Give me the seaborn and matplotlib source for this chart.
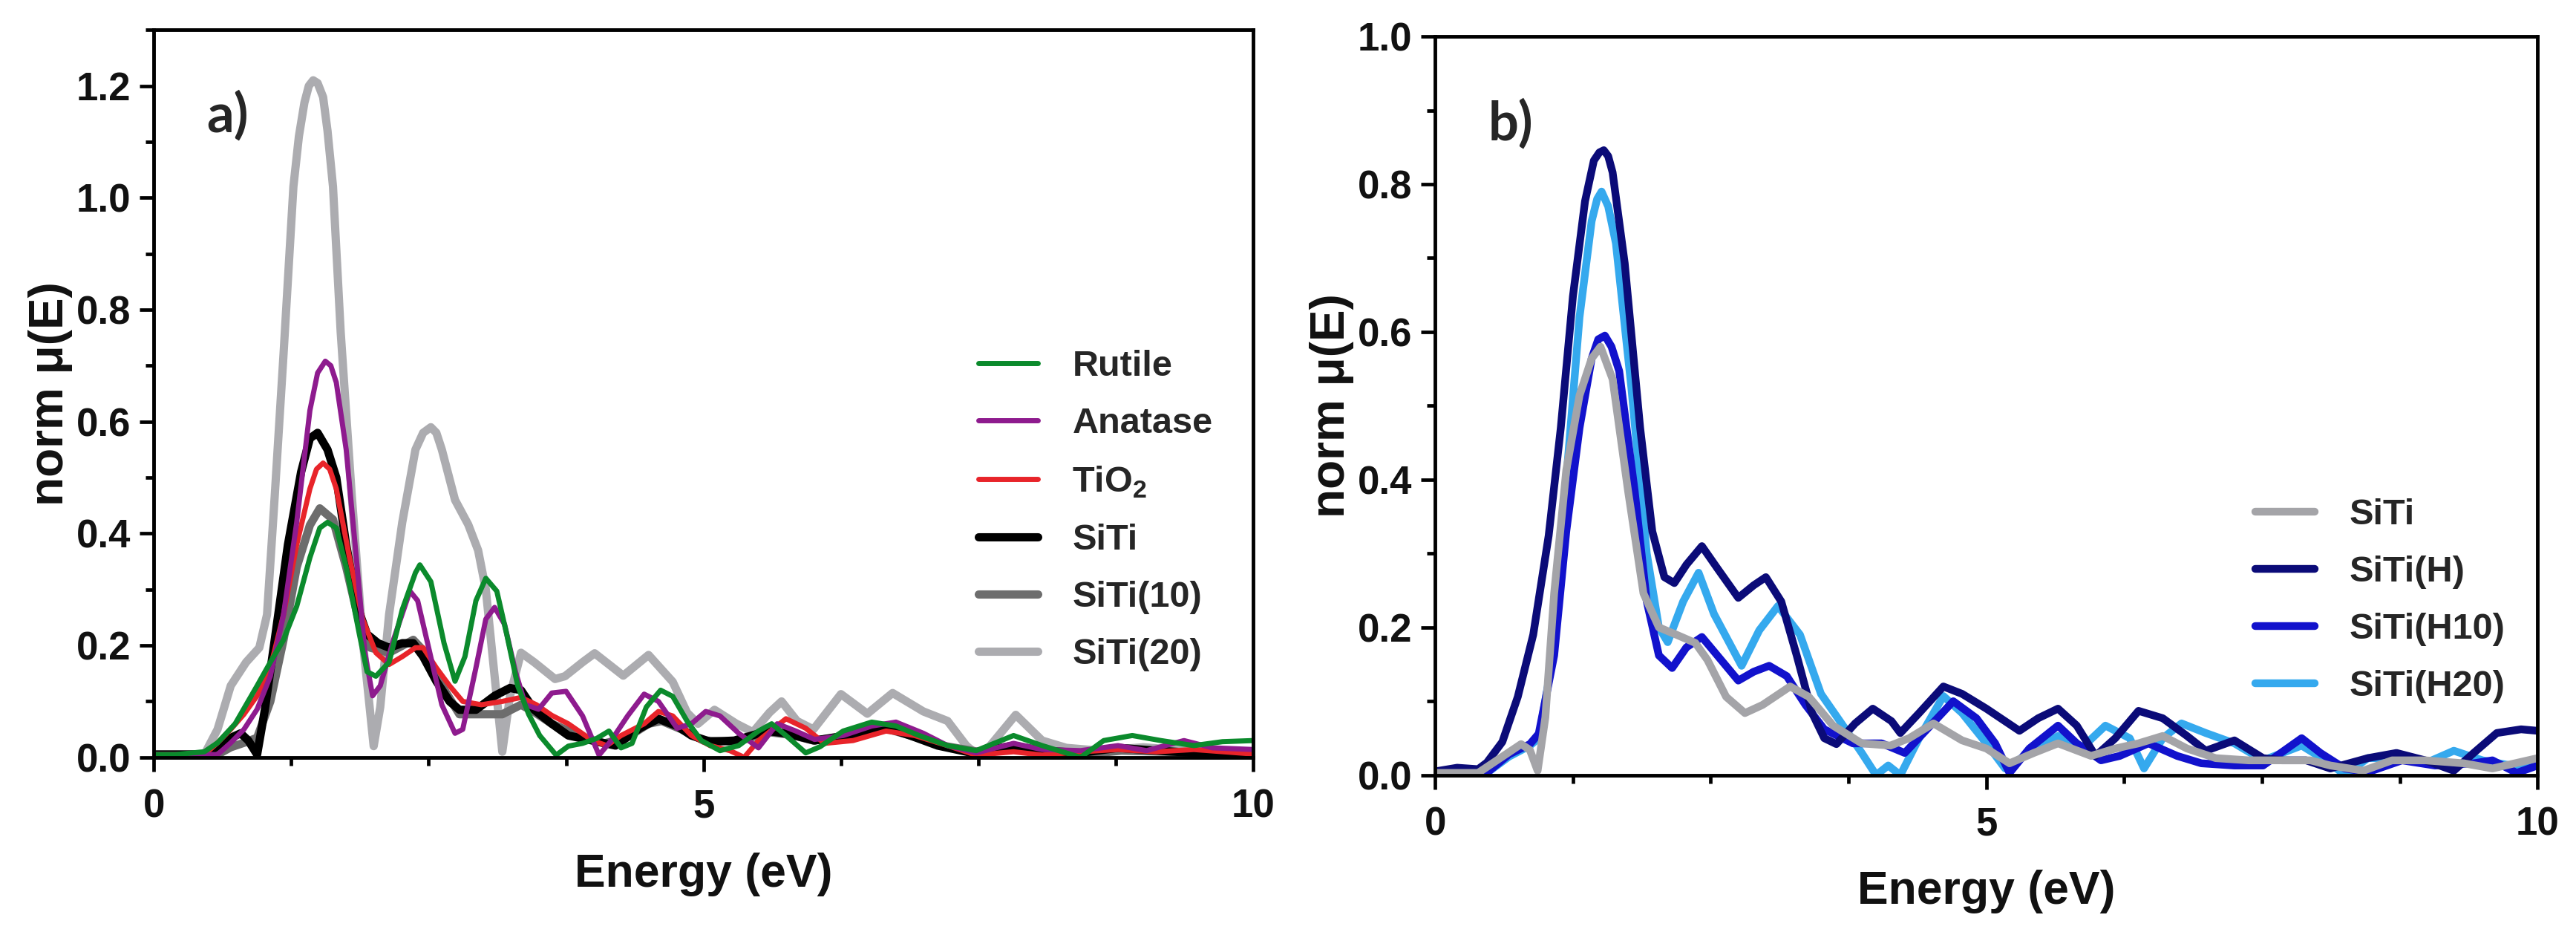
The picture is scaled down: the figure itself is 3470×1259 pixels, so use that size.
import matplotlib
matplotlib.use("Agg")
import matplotlib.pyplot as plt
import seaborn as sns
import pandas as pd
from matplotlib.ticker import MultipleLocator

# ---- data (energy in eV, normalised mu(E)) ----
rutile = [(0, .005), (0.2, .005), (0.46, .01), (0.58, .026), (0.74, .06), (0.94, .128), (1.06, .17),
          (1.18, .21), (1.30, .27), (1.42, .357), (1.51, .41), (1.58, .42), (1.66, .41), (1.75, .34),
          (1.87, .22), (1.94, .153), (2.02, .145), (2.14, .17), (2.26, .264), (2.38, .33), (2.42, .344),
          (2.52, .314), (2.64, .204), (2.74, .136), (2.83, .18), (2.93, .28), (3.02, .32), (3.12, .297),
          (3.21, .22), (3.31, .128), (3.41, .077), (3.51, .039), (3.66, .004), (3.77, .02), (3.90, .025),
          (4.03, .034), (4.14, .047), (4.25, .017), (4.35, .025), (4.48, .09), (4.61, .12), (4.72, .109),
          (4.85, .065), (4.98, .03), (5.15, .012), (5.32, .021), (5.50, .047), (5.62, .06), (5.75, .039),
          (5.93, .008), (6.06, .019), (6.27, .047), (6.53, .063), (6.75, .056), (6.96, .039), (7.22, .021),
          (7.48, .012), (7.82, .039), (8.08, .021), (8.43, .0), (8.64, .03), (8.90, .039), (9.16, .03),
          (9.46, .021), (9.72, .028), (10.0, .03)]
anatase = [(0, .005), (0.58, .005), (0.70, .026), (0.82, .05), (0.94, .086), (1.06, .145), (1.18, .255),
           (1.30, .42), (1.42, .62), (1.49, .687), (1.56, .708), (1.61, .70), (1.66, .67), (1.75, .55),
           (1.85, .34), (1.92, .187), (1.99, .11), (2.06, .128), (2.18, .21), (2.33, .297), (2.40, .28),
           (2.50, .196), (2.62, .094), (2.74, .043), (2.81, .05), (2.93, .16), (3.02, .247), (3.10, .268),
           (3.19, .238), (3.29, .153), (3.38, .094), (3.50, .086), (3.62, .115), (3.75, .118), (3.90, .074),
           (4.05, .004), (4.16, .03), (4.31, .074), (4.46, .113), (4.59, .10), (4.76, .052), (4.89, .06),
           (5.02, .082), (5.15, .074), (5.32, .043), (5.50, .017), (5.67, .06), (5.84, .047), (6.01, .032),
           (6.27, .039), (6.53, .056), (6.75, .063), (7.0, .043), (7.22, .021), (7.48, .008), (7.82, .025),
           (8.08, .014), (8.43, .012), (8.77, .021), (9.03, .012), (9.37, .03), (9.63, .017), (10.0, .014)]
tio2 = [(0, .005), (0.46, .005), (0.58, .026), (0.70, .05), (0.82, .077), (0.94, .11), (1.06, .16),
        (1.18, .255), (1.30, .38), (1.42, .48), (1.48, .515), (1.54, .526), (1.60, .515), (1.66, .48),
        (1.78, .357), (1.90, .247), (2.02, .187), (2.14, .166), (2.26, .18), (2.38, .196), (2.45, .196),
        (2.57, .16), (2.69, .128), (2.81, .10), (2.98, .094), (3.17, .10), (3.34, .107), (3.48, .094),
        (3.62, .075), (3.77, .06), (3.99, .03), (4.12, .021), (4.25, .039), (4.46, .06), (4.59, .082),
        (4.72, .074), (4.89, .039), (5.06, .021), (5.24, .012), (5.37, .0), (5.50, .03), (5.75, .069),
        (5.93, .052), (6.10, .025), (6.36, .03), (6.66, .047), (6.92, .039), (7.22, .021), (7.48, .004),
        (7.82, .01), (8.08, .004), (8.43, .01), (8.77, .014), (9.12, .01), (9.46, .014), (10.0, .006)]
siti = [(0, .005), (0.46, .005), (0.58, .02), (0.70, .035), (0.79, .043), (0.86, .03), (0.94, .005),
        (1.01, .085), (1.10, .21), (1.22, .38), (1.34, .51), (1.42, .57), (1.49, .58), (1.58, .55),
        (1.66, .50), (1.75, .38), (1.85, .27), (1.94, .22), (2.04, .204), (2.14, .196), (2.26, .204),
        (2.36, .204), (2.45, .18), (2.57, .136), (2.69, .10), (2.78, .085), (2.93, .085), (3.10, .11),
        (3.24, .124), (3.34, .12), (3.46, .085), (3.62, .06), (3.77, .039), (3.99, .03), (4.20, .021),
        (4.42, .052), (4.59, .069), (4.76, .056), (4.89, .039), (5.06, .028), (5.28, .03), (5.58, .047),
        (5.75, .043), (6.01, .03), (6.36, .041), (6.62, .056), (6.88, .039), (7.13, .021), (7.44, .008),
        (7.82, .021), (8.08, .012), (8.43, .008), (8.77, .017), (9.12, .012), (9.46, .008), (10.0, .001)]
siti10 = [(0, .005), (0.58, .005), (0.70, .018), (0.82, .026), (0.94, .035), (1.06, .10), (1.18, .21),
          (1.30, .34), (1.42, .415), (1.51, .445), (1.63, .425), (1.75, .34), (1.87, .24), (1.97, .196),
          (2.14, .187), (2.36, .21), (2.47, .187), (2.62, .128), (2.78, .077), (2.98, .077), (3.17, .077),
          (3.34, .094), (3.46, .081), (3.62, .06), (3.74, .05), (3.90, .035), (4.10, .025), (4.30, .035),
          (4.50, .06), (4.62, .065), (4.80, .05), (5.00, .03), (5.30, .028), (5.60, .045), (5.80, .04),
          (6.00, .03), (6.40, .04), (6.65, .052), (6.90, .038), (7.20, .02), (7.50, .01), (7.80, .02),
          (8.10, .01), (8.50, .006), (8.80, .012), (9.20, .01), (9.60, .008), (10.0, .002)]
siti20 = [(0, .005), (0.46, .005), (0.58, .05), (0.70, .128), (0.84, .17), (0.96, .196), (1.03, .255),
          (1.10, .467), (1.18, .72), (1.27, 1.02), (1.32, 1.11), (1.37, 1.17), (1.41, 1.20), (1.45, 1.21),
          (1.49, 1.205), (1.54, 1.18), (1.58, 1.12), (1.63, 1.02), (1.70, .76), (1.80, .47), (1.90, .21),
          (2.00, .02), (2.06, .09), (2.14, .255), (2.26, .42), (2.38, .55), (2.45, .58), (2.52, .59),
          (2.57, .58), (2.62, .55), (2.74, .46), (2.86, .416), (2.95, .37), (3.02, .30), (3.10, .145),
          (3.17, .01), (3.24, .11), (3.34, .187), (3.46, .17), (3.65, .14), (3.74, .145), (3.90, .17),
          (4.01, .186), (4.27, .146), (4.50, .183), (4.72, .135), (4.85, .08), (4.95, .06), (5.10, .085),
          (5.30, .06), (5.45, .045), (5.60, .08), (5.71, .10), (5.85, .065), (6.00, .05), (6.25, .113),
          (6.49, .078), (6.72, .115), (7.00, .082), (7.22, .065), (7.39, .021), (7.52, .0), (7.84, .076),
          (8.08, .03), (8.30, .017), (8.60, .012), (9.00, .018), (9.40, .012), (9.70, .008), (10.0, .003)]

b_siti = [(0, .003), (0.39, .003), (0.53, .017), (0.78, .042), (0.86, .034), (0.93, .006), (1.00, .078),
          (1.08, .246), (1.19, .413), (1.31, .514), (1.42, .564), (1.50, .58), (1.61, .536), (1.75, .385),
          (1.89, .246), (2.03, .20), (2.19, .19), (2.36, .179), (2.47, .156), (2.64, .106), (2.81, .084),
          (2.97, .095), (3.22, .12), (3.39, .106), (3.61, .067), (3.87, .043), (4.13, .04), (4.30, .05),
          (4.52, .07), (4.78, .047), (5.00, .036), (5.21, .016), (5.43, .03), (5.65, .043), (5.95, .026),
          (6.17, .036), (6.38, .043), (6.60, .053), (6.82, .036), (7.08, .023), (7.38, .02), (7.68, .02),
          (7.94, .02), (8.12, .013), (8.42, .006), (8.68, .02), (8.98, .02), (9.33, .016), (9.59, .009),
          (10.0, .023)]
b_sitih = [(0, .005), (0.2, .01), (0.39, .008), (0.47, .017), (0.61, .045), (0.75, .106), (0.89, .19),
           (1.03, .324), (1.14, .47), (1.25, .648), (1.36, .777), (1.44, .832), (1.49, .843), (1.53, .846),
           (1.57, .838), (1.61, .816), (1.72, .693), (1.86, .47), (1.97, .33), (2.08, .268), (2.17, .26),
           (2.28, .285), (2.42, .31), (2.56, .28), (2.75, .24), (2.89, .257), (3.00, .268), (3.14, .235),
           (3.28, .162), (3.42, .084), (3.53, .05), (3.64, .042), (3.81, .07), (3.97, .09), (4.14, .073),
           (4.22, .057), (4.39, .084), (4.61, .12), (4.78, .11), (5.00, .09), (5.30, .06), (5.47, .077),
           (5.65, .09), (5.82, .067), (5.99, .026), (6.17, .05), (6.38, .087), (6.60, .077), (6.82, .053),
           (6.99, .033), (7.25, .047), (7.51, .023), (7.68, .02), (7.90, .02), (8.12, .009), (8.46, .023),
           (8.72, .03), (8.98, .02), (9.24, .006), (9.42, .03), (9.63, .057), (9.85, .062), (10.0, .06)]
b_sitih10 = [(0, .003), (0.47, .003), (0.67, .028), (0.86, .042), (0.94, .056), (1.08, .162), (1.19, .33),
             (1.31, .47), (1.42, .564), (1.48, .59), (1.54, .595), (1.60, .58), (1.67, .547), (1.81, .385),
             (1.92, .235), (2.03, .162), (2.15, .145), (2.28, .173), (2.42, .187), (2.56, .162), (2.75, .128),
             (2.89, .14), (3.03, .148), (3.19, .134), (3.36, .095), (3.53, .062), (3.79, .043), (4.05, .043),
             (4.26, .03), (4.43, .057), (4.70, .10), (4.91, .077), (5.08, .043), (5.21, .003), (5.39, .036),
             (5.65, .067), (5.82, .043), (6.04, .02), (6.21, .026), (6.47, .043), (6.73, .026), (6.95, .016),
             (7.25, .013), (7.51, .013), (7.86, .05), (8.03, .03), (8.25, .009), (8.46, .004), (8.77, .02),
             (9.07, .013), (9.42, .016), (9.59, .02), (9.81, .003), (10.0, .013)]
b_sitih20 = [(0, .003), (0.47, .003), (0.67, .025), (0.86, .04), (0.94, .05), (1.08, .17), (1.19, .40),
             (1.31, .62), (1.42, .75), (1.47, .78), (1.51, .79), (1.57, .77), (1.64, .72), (1.78, .525),
             (1.92, .30), (2.03, .20), (2.11, .18), (2.25, .235), (2.39, .274), (2.53, .218), (2.78, .148),
             (2.94, .196), (3.11, .229), (3.31, .19), (3.50, .11), (3.70, .067), (3.87, .03), (4.00, .0),
             (4.11, .013), (4.22, .0), (4.39, .05), (4.61, .107), (4.78, .084), (5.00, .043), (5.17, .009),
             (5.39, .03), (5.65, .053), (5.86, .036), (6.08, .067), (6.30, .05), (6.43, .009), (6.60, .05),
             (6.77, .07), (6.99, .057), (7.25, .043), (7.51, .02), (7.86, .04), (8.12, .016), (8.25, .0),
             (8.46, .023), (8.80, .023), (8.98, .016), (9.24, .033), (9.50, .02), (9.76, .013), (10.0, .016)]

# (label, data, colour, linewidth) in legend order
panel_a = [("Rutile", rutile, "#0b8a2c", 5.0),
           ("Anatase", anatase, "#8e1b8e", 5.0),
           ("TiO$_\\mathbf{2}$", tio2, "#e8242a", 5.0),
           ("SiTi", siti, "#000000", 8.0),
           ("SiTi(10)", siti10, "#6d6d6d", 8.0),
           ("SiTi(20)", siti20, "#acacb0", 8.0)]
draw_order_a = [5, 4, 3, 2, 1, 0]

panel_b = [("SiTi", b_siti, "#a4a4a8", 7.5),
           ("SiTi(H)", b_sitih, "#0b0b78", 7.5),
           ("SiTi(H10)", b_sitih10, "#1212cc", 7.5),
           ("SiTi(H20)", b_sitih20, "#35a9ee", 7.5)]
draw_order_b = [3, 2, 1, 0]

sns.set_theme(style="ticks")
plt.rcParams["font.family"] = ["Liberation Sans", "DejaVu Sans"]
plt.rcParams["font.weight"] = "bold"
plt.rcParams["mathtext.fontset"] = "custom"
plt.rcParams["mathtext.rm"] = "Liberation Sans:bold"
plt.rcParams["mathtext.bf"] = "Liberation Sans:bold"

fig = plt.figure(figsize=(34.7, 12.59), dpi=100)
ax1 = fig.add_axes([0.0597, 0.190, 0.4268, 0.778])
ax2 = fig.add_axes([0.5571, 0.171, 0.428, 0.790])


def draw_panel(ax, series, order, ymax, letter, leg_anchor):
    for i in order:
        label, pts, colour, lw = series[i]
        df = pd.DataFrame(pts, columns=["energy", "mu"])
        sns.lineplot(data=df, x="energy", y="mu", ax=ax, color=colour, lw=lw,
                     label=label, solid_joinstyle="round", solid_capstyle="round")
    hs, ls = ax.get_legend_handles_labels()
    handles = dict(zip(ls, hs))
    labels = [s[0] for s in series]
    ax.legend([handles[l] for l in labels], labels, loc="upper left",
              bbox_to_anchor=leg_anchor, frameon=False, fontsize=35,
              handlelength=1.65, handletextpad=0.95, labelspacing=0.66,
              borderpad=0, borderaxespad=0)

    ax.set_xlim(0, 10)
    ax.set_ylim(0, ymax)
    ax.xaxis.set_major_locator(MultipleLocator(5))
    ax.xaxis.set_minor_locator(MultipleLocator(1.25))
    ax.yaxis.set_major_locator(MultipleLocator(0.2))
    ax.yaxis.set_minor_locator(MultipleLocator(0.1))
    ax.yaxis.set_major_formatter(plt.FormatStrFormatter("%.1f"))
    ax.tick_params(which="major", direction="out", length=14, width=3.4,
                   labelsize=38, color="black", labelcolor="#111111")
    ax.tick_params(axis="x", which="major", pad=16)
    ax.tick_params(axis="y", which="major", pad=8)
    ax.tick_params(which="minor", direction="out", length=8, width=3.4, color="black")
    for sp in ax.spines.values():
        sp.set_linewidth(3.5)
        sp.set_color("black")
    ax.set_xlabel("Energy (eV)", fontsize=45, fontweight="bold", labelpad=26, color="#111111")
    ax.set_ylabel("norm \u03bc(E)", fontsize=46, fontweight="bold", labelpad=4, color="#111111")
    ax.text(0.048, 0.86, letter, transform=ax.transAxes, fontsize=52,
            family=["Lato", "DejaVu Sans"], fontweight="bold", va="baseline", ha="left")


draw_panel(ax1, panel_a, draw_order_a, 1.3, "a)", (0.75, 0.56))
draw_panel(ax2, panel_b, draw_order_b, 1.0, "b)", (0.744, 0.375))

fig.savefig("out.png", dpi=100, facecolor="white")
